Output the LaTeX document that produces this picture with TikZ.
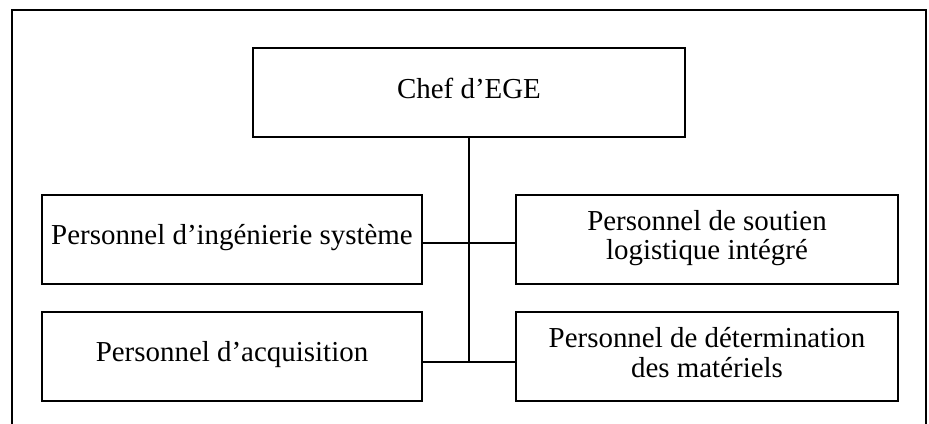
\documentclass[tikz,border=0pt]{standalone}
\usepackage{fontspec}
\setmainfont{Liberation Serif}
\begin{document}
\begin{tikzpicture}[x=0.75pt,y=-0.75pt,
  box/.style={draw=black,line width=1pt,inner sep=0pt,fill=white},
  lbl/.style={font=\fontsize{21.7pt}{21.75pt}\selectfont,inner sep=0pt,align=center,anchor=base},
  link/.style={draw=black,line width=1.5pt}]
\useasboundingbox (0,0) rectangle (929,424);
\begin{scope}
\clip (0,0) rectangle (929,424);
\draw[line width=1.1pt] (12,10) rectangle (926,450);
\end{scope}
\node[box,minimum width=324pt,minimum height=66.75pt] (chef) at (469,92.5) {};
\node[box,minimum width=285pt,minimum height=66.75pt] (ing) at (232,239.5) {};
\node[box,minimum width=285pt,minimum height=66.75pt] (acq) at (232,356.5) {};
\node[box,minimum width=286.5pt,minimum height=66.75pt] (sou) at (707,239.5) {};
\node[box,minimum width=286.5pt,minimum height=66.75pt] (det) at (707,356.5) {};
\node[lbl] (tchef) at (469,99) {Chef d’EGE};
\node[lbl] (ting) at (232,245) {Personnel d’ingénierie système};
\node[lbl] (tacq) at (232,361.5) {Personnel d’acquisition};
\node[lbl] (tsou) at (707,260) {Personnel de soutien\\logistique intégré};
\node[lbl] (tdet) at (707,377) {Personnel de détermination\\des matériels};
\coordinate (j1) at (469,243);
\coordinate (j2) at (469,362);
\draw[link] (chef.south) -- (j2);
\draw[link] (ing.east |- j1) -- (sou.west |- j1);
\draw[link] (acq.east |- j2) -- (det.west |- j2);
\end{tikzpicture}
\end{document}
